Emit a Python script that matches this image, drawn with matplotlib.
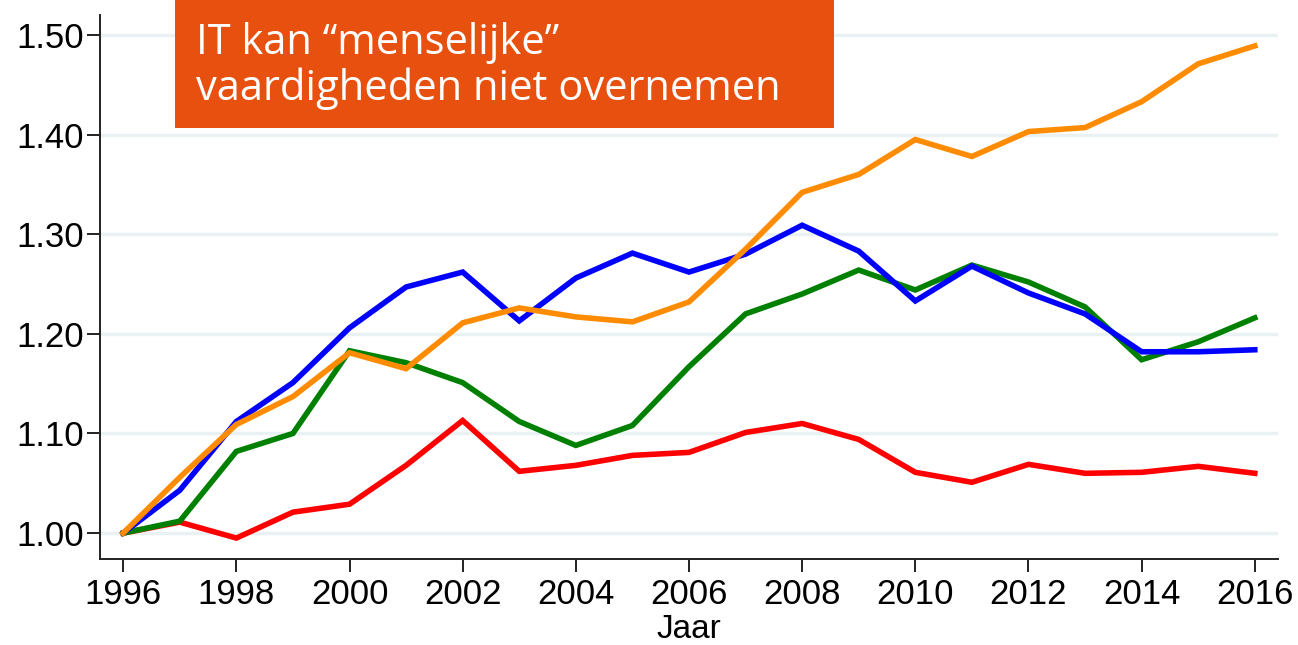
"""IT kan 'menselijke' vaardigheden niet overnemen — index 1996 = 1.00."""

import matplotlib.pyplot as plt

years = list(range(1996, 2017))

blue = [1.000, 1.043, 1.112, 1.151, 1.206, 1.247, 1.262, 1.213, 1.256, 1.281, 1.262,
        1.280, 1.309, 1.283, 1.233, 1.268, 1.241, 1.220, 1.182, 1.182, 1.184]
orange = [1.000, 1.056, 1.109, 1.137, 1.181, 1.165, 1.211, 1.226, 1.217, 1.212, 1.232,
          1.285, 1.342, 1.360, 1.395, 1.378, 1.403, 1.407, 1.433, 1.471, 1.489]
green = [1.000, 1.012, 1.082, 1.100, 1.183, 1.171, 1.151, 1.112, 1.088, 1.108, 1.167,
         1.220, 1.240, 1.264, 1.244, 1.269, 1.252, 1.227, 1.174, 1.192, 1.216]
red = [1.000, 1.011, 0.995, 1.021, 1.029, 1.068, 1.113, 1.062, 1.068, 1.078, 1.081,
       1.101, 1.110, 1.094, 1.061, 1.051, 1.069, 1.060, 1.061, 1.067, 1.060]

y_ticks = [1.00, 1.10, 1.20, 1.30, 1.40, 1.50]
x_ticks = list(range(1996, 2017, 2))
title = "IT kan \u201cmenselijke\u201d\nvaardigheden niet overnemen"

plt.rcParams["font.family"] = ["Liberation Sans", "DejaVu Sans"]

fig = plt.figure(figsize=(12.98, 6.45), dpi=100)
ax = fig.add_axes([100 / 1298, 1 - 559 / 645, 1178 / 1298, 544 / 645])

# draw order: red, green, blue, orange (orange sits on top)
for vals, col in [(red, "#ff0000"), (green, "#008000"), (blue, "#0000ff"), (orange, "#ff8c00")]:
    ax.plot(years, vals, color=col, lw=4.0, solid_joinstyle="miter", zorder=3)

ax.set_xlim(1995.59, 2016.41)
ax.set_ylim(0.974, 1.520)
ax.set_yticks(y_ticks)
ax.set_yticklabels([f"{v:.2f}" for v in y_ticks])
ax.set_xticks(x_ticks)
ax.grid(axis="y", color="#eaf1f3", lw=2.5, zorder=0)
ax.set_axisbelow(True)

for s in ["top", "right"]:
    ax.spines[s].set_visible(False)
for s in ["left", "bottom"]:
    ax.spines[s].set_color("#222222")
    ax.spines[s].set_linewidth(1.4)
ax.tick_params(axis="both", length=9.5, width=1.4, color="#222222", labelsize=25)
ax.tick_params(axis="x", pad=4)
ax.tick_params(axis="y", pad=2)
ax.set_xlabel("Jaar", fontsize=24)
ax.xaxis.set_label_coords(0.5, -0.101)

# orange title box
fig.patches.append(plt.Rectangle((175 / 1298, 1 - 128 / 645), 659 / 1298, 128 / 645,
                                 transform=fig.transFigure, facecolor="#e8500f",
                                 edgecolor="none", zorder=5))
fig.text(196 / 1298, 1 - 100 / 645, title, color="white", fontsize=30,
         family=["Open Sans", "DejaVu Sans"], va="baseline", ha="left",
         linespacing=1.1, zorder=6)

plt.savefig("out.png", dpi=100)
